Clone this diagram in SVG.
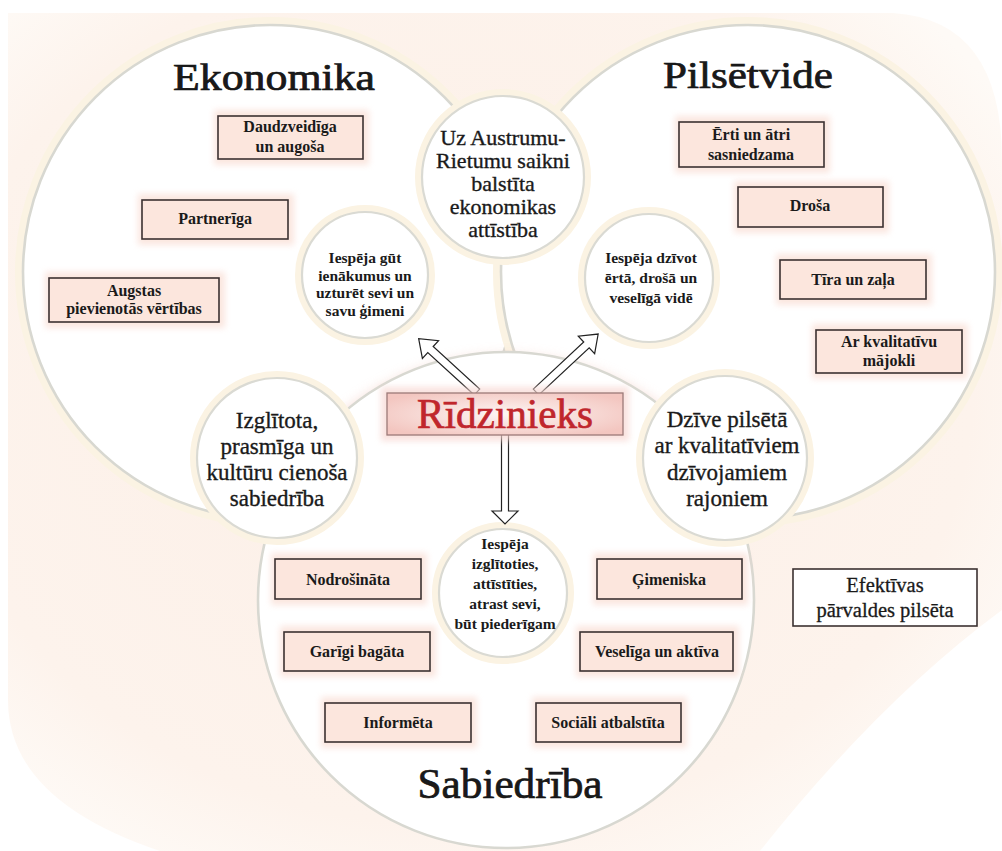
<svg xmlns="http://www.w3.org/2000/svg" width="1002" height="851" viewBox="0 0 1002 851">
<defs>
<style>
.big{fill:#fff;stroke:#d8d8d1;stroke-width:2.6}
.sc{fill:#fff;stroke:#dadad3;stroke-width:2.2}
.halo{fill:none;stroke:#fbf3e3;stroke-width:8}
.box{fill:#fce6dd;stroke:#3b3131;stroke-width:1.6}
.glow{fill:#f9dcd2;opacity:0.7;filter:url(#blur)}
.t{font-family:"Liberation Serif","Times New Roman",serif;fill:#1a1a1a;text-anchor:middle}
.title{font-size:38px;stroke:#111;stroke-width:0.7}
.mid{font-size:23px;stroke:#1a1a1a;stroke-width:0.35}
.sm{font-size:16px;font-weight:bold}
.arr{fill:#fff;stroke:#222;stroke-width:1.2;stroke-linejoin:miter}
</style>
<filter id="blur" x="-20%" y="-40%" width="140%" height="180%"><feGaussianBlur stdDeviation="3"/></filter>
<filter id="blur8" x="-20%" y="-20%" width="140%" height="140%"><feGaussianBlur stdDeviation="6"/></filter>
<radialGradient id="rg" cx="50%" cy="50%" r="60%">
<stop offset="0" stop-color="#fdf6f4"/>
<stop offset="1" stop-color="#f3c6c0"/>
</radialGradient>
<radialGradient id="bg" cx="45%" cy="45%" r="65%">
<stop offset="0" stop-color="#fcefe7"/>
<stop offset="0.8" stop-color="#fdf3ec"/>
<stop offset="1" stop-color="#fefaf6"/>
</radialGradient>
</defs>
<rect width="1002" height="851" fill="#fff"/>
<path d="M8,13 L893,13 Q1002,20 1002,160 L1002,610 Q880,700 760,851 L160,851 Q8,800 8,700 Z" fill="url(#bg)"/>

<g id="ekonomika">
<circle class="halo" cx="270" cy="272" r="251"/>
<circle class="big" cx="270" cy="272" r="247"/>
</g>
<g id="pilsetvide">
<circle class="halo" cx="748" cy="272" r="251"/>
<circle class="big" cx="748" cy="272" r="247"/>
</g>
<path d="M292,478 A256,256 0 0 1 720,478" fill="none" stroke="#f5d0c8" stroke-width="16" opacity="0.65" filter="url(#blur8)"/>
<g id="sabiedriba">
<circle class="big" cx="506" cy="600" r="248"/>
</g>

<g id="titles">
<text class="t title" x="274" y="90" textLength="202" lengthAdjust="spacingAndGlyphs">Ekonomika</text>
<text class="t title" x="748" y="88" textLength="170" lengthAdjust="spacingAndGlyphs">Pilsētvide</text>
<text class="t title" style="font-size:42px" x="510" y="798" textLength="185" lengthAdjust="spacingAndGlyphs">Sabiedrība</text>
</g>

<g id="c-austrumu">
<circle class="halo" cx="503" cy="177" r="84"/>
<circle class="sc" cx="503" cy="177" r="81"/>
<text class="t mid" style="font-size:22px"><tspan x="503" y="145">Uz Austrumu-</tspan><tspan x="503" y="168">Rietumu saikni</tspan><tspan x="503" y="191">balstīta</tspan><tspan x="503" y="214">ekonomikas</tspan><tspan x="503" y="237">attīstība</tspan></text>
</g>
<g id="c-ienakumi">
<circle class="halo" cx="365" cy="275" r="66"/>
<circle class="sc" cx="365" cy="275" r="63"/>
<text class="t sm" style="font-size:15.5px"><tspan x="365" y="263">Iespēja gūt</tspan><tspan x="365" y="280.5">ienākumus un</tspan><tspan x="365" y="298">uzturēt sevi un</tspan><tspan x="365" y="315.5">savu ģimeni</tspan></text>
</g>
<g id="c-vide">
<circle class="halo" cx="649" cy="278" r="67"/>
<circle class="sc" cx="649" cy="278" r="64"/>
<text class="t sm" style="font-size:15.5px"><tspan x="651" y="263">Iespēja dzīvot</tspan><tspan x="651" y="283">ērtā, drošā un</tspan><tspan x="651" y="303">veselīgā vidē</tspan></text>
</g>
<g id="c-izglitota">
<circle class="halo" cx="277" cy="458" r="83"/>
<circle class="sc" cx="277" cy="458" r="80"/>
<text class="t mid"><tspan x="277" y="428">Izglītota,</tspan><tspan x="277" y="454">prasmīga un</tspan><tspan x="277" y="480">kultūru cienoša</tspan><tspan x="277" y="506">sabiedrība</tspan></text>
</g>
<g id="c-dzive">
<circle class="halo" cx="725" cy="458" r="85"/>
<circle class="sc" cx="725" cy="458" r="82"/>
<text class="t mid"><tspan x="727" y="427">Dzīve pilsētā</tspan><tspan x="727" y="453">ar kvalitatīviem</tspan><tspan x="727" y="480">dzīvojamiem</tspan><tspan x="727" y="506">rajoniem</tspan></text>
</g>
<g id="c-izglitoties">
<circle class="halo" cx="503" cy="593" r="67"/>
<circle class="sc" cx="503" cy="593" r="64"/>
<text class="t sm" style="font-size:15.5px"><tspan x="505" y="549">Iespēja</tspan><tspan x="505" y="569">izglītoties,</tspan><tspan x="505" y="589">attīstīties,</tspan><tspan x="505" y="609">atrast sevi,</tspan><tspan x="505" y="629">būt piederīgam</tspan></text>
</g>

<g id="r-daudzveidiga"><rect class="glow" x="214" y="110" width="155" height="55"/><rect class="box" x="218" y="116" width="145" height="43"/><text class="t sm"><tspan x="290" y="132">Daudzveidīga</tspan><tspan x="290" y="152">un augoša</tspan></text></g>
<g id="r-partneriga"><rect class="glow" x="138" y="194" width="156" height="51"/><rect class="box" x="142" y="200" width="146" height="39"/><text class="t sm" x="215" y="224">Partnerīga</text></g>
<g id="r-augstas"><rect class="glow" x="45" y="272" width="180" height="56"/><rect class="box" x="49" y="278" width="170" height="44"/><text class="t sm"><tspan x="134" y="296">Augstas</tspan><tspan x="134" y="314">pievienotās vērtības</tspan></text></g>

<g id="r-erti"><rect class="glow" x="675" y="116" width="155" height="57"/><rect class="box" x="679" y="122" width="145" height="45"/><text class="t sm"><tspan x="751" y="140">Ērti un ātri</tspan><tspan x="751" y="160">sasniedzama</tspan></text></g>
<g id="r-drosa"><rect class="glow" x="734" y="181" width="155" height="52"/><rect class="box" x="738" y="187" width="145" height="40"/><text class="t sm" x="810" y="211">Droša</text></g>
<g id="r-tira"><rect class="glow" x="776" y="254" width="156" height="51"/><rect class="box" x="780" y="260" width="146" height="39"/><text class="t sm" x="853" y="285">Tīra un zaļa</text></g>
<g id="r-majoklis"><rect class="glow" x="812" y="324" width="156" height="55"/><rect class="box" x="816" y="330" width="146" height="43"/><text class="t sm"><tspan x="889" y="347">Ar kvalitatīvu</tspan><tspan x="889" y="366">mājokli</tspan></text></g>

<g id="r-nodrosinata"><rect class="glow" x="271" y="553" width="156" height="52"/><rect class="box" x="275" y="559" width="146" height="40"/><text class="t sm" x="348" y="585">Nodrošināta</text></g>
<g id="r-garigi"><rect class="glow" x="280" y="626" width="156" height="51"/><rect class="box" x="284" y="632" width="146" height="39"/><text class="t sm" x="357" y="657">Garīgi bagāta</text></g>
<g id="r-informeta"><rect class="glow" x="321" y="697" width="156" height="51"/><rect class="box" x="325" y="703" width="146" height="39"/><text class="t sm" x="398" y="728">Informēta</text></g>
<g id="r-gimeniska"><rect class="glow" x="593" y="553" width="155" height="52"/><rect class="box" x="597" y="559" width="145" height="40"/><text class="t sm" x="669" y="585">Ģimeniska</text></g>
<g id="r-veseliga"><rect class="glow" x="576" y="626" width="163" height="51"/><rect class="box" x="580" y="632" width="153" height="39"/><text class="t sm" x="657" y="657">Veselīga un aktīva</text></g>
<g id="r-sociali"><rect class="glow" x="532" y="697" width="155" height="51"/><rect class="box" x="536" y="703" width="145" height="39"/><text class="t sm" x="608" y="728">Sociāli atbalstīta</text></g>

<g id="r-efektivas"><rect x="793" y="569" width="184" height="57" fill="#fff" stroke="#3b3131" stroke-width="1.6"/><text class="t" style="font-size:20.5px;stroke:#1a1a1a;stroke-width:0.3"><tspan x="885" y="592">Efektīvas</tspan><tspan x="885" y="617">pārvaldes pilsēta</tspan></text></g>

<g id="connectors">
<polygon class="arr" transform="translate(477,392) rotate(-137.6)" points="0,-4 63,-4 63,-12 79,0 63,12 63,4 0,4"/>
<polygon class="arr" transform="translate(536,392) rotate(-43)" points="0,-4 69,-4 69,-12 85,0 69,12 69,4 0,4"/>
<polygon class="arr" transform="translate(505,434) rotate(90)" points="0,-3.5 77,-3.5 77,-13 90,0 77,13 77,3.5 0,3.5"/>
</g>

<g id="ridzinieks">
<rect x="381" y="387" width="248" height="54" fill="#f7d6d0" opacity="0.7" filter="url(#blur)"/>
<rect x="387" y="393" width="236" height="42" fill="url(#rg)" stroke="#9c7a78" stroke-width="1.3"/>
<text class="t" style="font-size:42px;fill:#c0262c;stroke:#c0262c;stroke-width:0.7" x="505" y="428" textLength="176" lengthAdjust="spacingAndGlyphs">Rīdzinieks</text>
</g>
</svg>
